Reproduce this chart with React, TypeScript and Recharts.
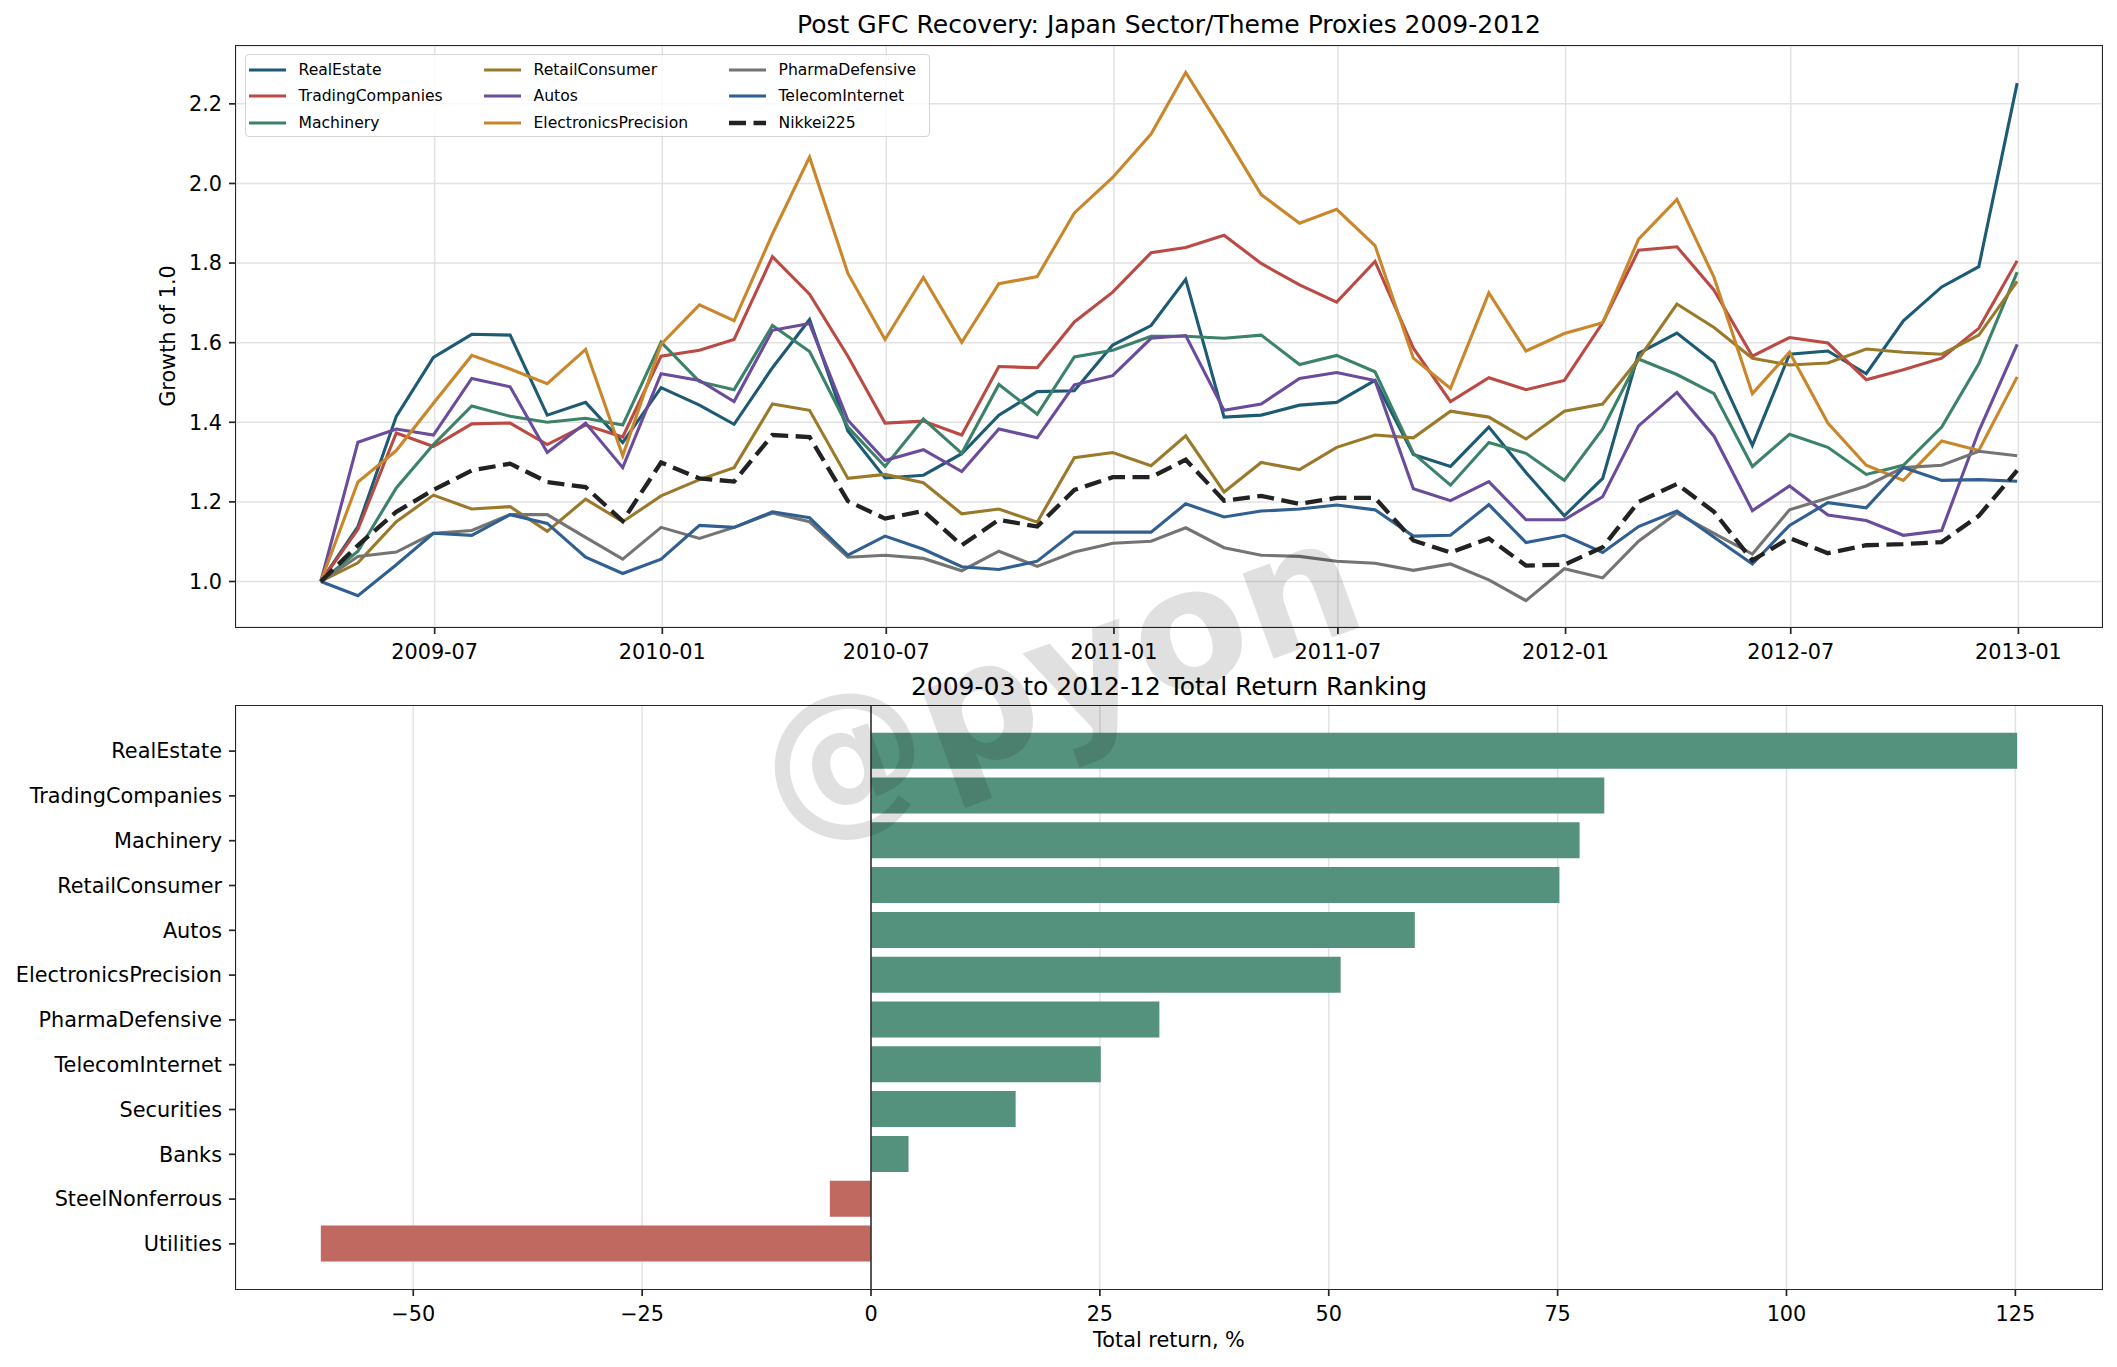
import React from 'react'
import { LineChart, Line, BarChart, Bar, Cell, XAxis, YAxis, CartesianGrid, ReferenceLine } from 'recharts'

const FONT = '"DejaVu Sans", sans-serif'
const AX = '#262626'
const W = 2117

// monthly closes, growth of 1.0 from 2009-03 month end to 2012-12
const realEstate = [1.0, 1.138, 1.415, 1.563, 1.621, 1.619, 1.418, 1.45, 1.349, 1.487, 1.443, 1.395, 1.537, 1.658, 1.378, 1.26,
  1.267, 1.321, 1.418, 1.477, 1.479, 1.594, 1.643, 1.759, 1.413, 1.418, 1.443, 1.45, 1.505, 1.319, 1.289, 1.388, 1.274, 1.165,
  1.259, 1.573, 1.624, 1.551, 1.342, 1.571, 1.579, 1.522, 1.655, 1.74, 1.791, 2.252]
const tradingCompanies = [1.0, 1.131, 1.373, 1.339, 1.396, 1.398, 1.344, 1.393, 1.363, 1.566, 1.581, 1.608, 1.816, 1.722, 1.566, 1.398,
  1.403, 1.368, 1.54, 1.537, 1.652, 1.727, 1.826, 1.839, 1.87, 1.799, 1.745, 1.702, 1.804, 1.586, 1.452, 1.512, 1.482, 1.505,
  1.65, 1.832, 1.841, 1.732, 1.566, 1.613, 1.599, 1.507, 1.532, 1.561, 1.636, 1.806]
const machinery = [1.0, 1.076, 1.235, 1.344, 1.441, 1.415, 1.4, 1.41, 1.393, 1.601, 1.502, 1.482, 1.643, 1.578, 1.388, 1.289,
  1.408, 1.322, 1.495, 1.42, 1.564, 1.581, 1.616, 1.616, 1.611, 1.619, 1.545, 1.568, 1.527, 1.322, 1.242, 1.349, 1.322, 1.254,
  1.383, 1.559, 1.52, 1.472, 1.289, 1.37, 1.337, 1.269, 1.292, 1.388, 1.547, 1.777]
const retailConsumer = [1.0, 1.047, 1.15, 1.217, 1.182, 1.188, 1.126, 1.207, 1.15, 1.215, 1.256, 1.286, 1.446, 1.43, 1.259, 1.269,
  1.248, 1.17, 1.182, 1.149, 1.311, 1.324, 1.291, 1.366, 1.225, 1.299, 1.281, 1.337, 1.368, 1.361, 1.428, 1.413, 1.358, 1.428,
  1.446, 1.559, 1.697, 1.638, 1.561, 1.544, 1.549, 1.584, 1.576, 1.571, 1.619, 1.754]
const autos = [1.0, 1.35, 1.383, 1.368, 1.51, 1.489, 1.324, 1.398, 1.286, 1.522, 1.505, 1.452, 1.631, 1.648, 1.405, 1.304,
  1.331, 1.276, 1.383, 1.361, 1.494, 1.517, 1.611, 1.618, 1.43, 1.446, 1.51, 1.525, 1.505, 1.233, 1.203, 1.251, 1.155, 1.155,
  1.213, 1.391, 1.475, 1.365, 1.178, 1.24, 1.167, 1.153, 1.116, 1.128, 1.378, 1.596]
const electronicsPrecision = [1.0, 1.25, 1.329, 1.448, 1.568, 1.534, 1.497, 1.583, 1.316, 1.596, 1.695, 1.655, 1.873, 2.066, 1.774, 1.608,
  1.764, 1.601, 1.748, 1.766, 1.926, 2.015, 2.124, 2.279, 2.126, 1.972, 1.9, 1.935, 1.844, 1.561, 1.485, 1.725, 1.579, 1.623,
  1.65, 1.86, 1.96, 1.764, 1.472, 1.576, 1.398, 1.292, 1.254, 1.353, 1.329, 1.514]
const pharmaDefensive = [1.0, 1.063, 1.074, 1.121, 1.128, 1.168, 1.168, 1.111, 1.056, 1.136, 1.108, 1.136, 1.172, 1.15, 1.061, 1.066,
  1.058, 1.027, 1.076, 1.038, 1.074, 1.096, 1.101, 1.135, 1.085, 1.066, 1.063, 1.051, 1.046, 1.028, 1.044, 1.004, 0.952, 1.032,
  1.009, 1.101, 1.172, 1.121, 1.069, 1.18, 1.21, 1.24, 1.286, 1.292, 1.327, 1.316]
const telecomInternet = [1.0, 0.964, 1.042, 1.121, 1.116, 1.168, 1.146, 1.061, 1.02, 1.056, 1.141, 1.136, 1.175, 1.16, 1.066, 1.114,
  1.081, 1.037, 1.03, 1.051, 1.124, 1.124, 1.124, 1.195, 1.162, 1.177, 1.182, 1.192, 1.18, 1.114, 1.116, 1.193, 1.098, 1.116,
  1.073, 1.138, 1.177, 1.111, 1.044, 1.141, 1.198, 1.185, 1.286, 1.254, 1.256, 1.252]
const nikkei225 = [1.0, 1.091, 1.175, 1.23, 1.279, 1.296, 1.25, 1.237, 1.152, 1.299, 1.259, 1.251, 1.368, 1.363, 1.202, 1.158,
  1.177, 1.091, 1.155, 1.138, 1.23, 1.262, 1.262, 1.306, 1.203, 1.215, 1.195, 1.21, 1.21, 1.103, 1.073, 1.108, 1.04, 1.042,
  1.086, 1.2, 1.245, 1.175, 1.053, 1.109, 1.071, 1.091, 1.094, 1.099, 1.165, 1.279]

const SERIES = [
  { key: 'RealEstate', values: realEstate, color: '#1d5a74' },
  { key: 'TradingCompanies', values: tradingCompanies, color: '#bb4a44' },
  { key: 'Machinery', values: machinery, color: '#3b8268' },
  { key: 'RetailConsumer', values: retailConsumer, color: '#9a7a2a' },
  { key: 'Autos', values: autos, color: '#6a4c9c' },
  { key: 'ElectronicsPrecision', values: electronicsPrecision, color: '#c9862a' },
  { key: 'PharmaDefensive', values: pharmaDefensive, color: '#747474' },
  { key: 'TelecomInternet', values: telecomInternet, color: '#305f91' },
  { key: 'Nikkei225', values: nikkei225, color: '#222222', dashed: true },
]

const xTickLabels = ['2009-07', '2010-01', '2010-07', '2011-01', '2011-07', '2012-01', '2012-07', '2013-01']
const yTicks = [1.0, 1.2, 1.4, 1.6, 1.8, 2.0, 2.2]

const rankNames = ['RealEstate', 'TradingCompanies', 'Machinery', 'RetailConsumer', 'Autos', 'ElectronicsPrecision',
  'PharmaDefensive', 'TelecomInternet', 'Securities', 'Banks', 'SteelNonferrous', 'Utilities']
const rankReturns = [125.2, 80.1, 77.4, 75.2, 59.4, 51.3, 31.5, 25.1, 15.8, 4.1, -4.5, -60.1]
const returnTicks = [-50, -25, 0, 25, 50, 75, 100, 125]

// month-end dates, 2009-03-31 ... 2012-12-31
const monthEnds = realEstate.map((_, i) => Date.UTC(2009, 3 + i, 0))
const rows = monthEnds.map((t, i) => {
  const r: any = { t }
  SERIES.forEach(s => { r[s.key] = s.values[i] })
  return r
})
const xTicks = xTickLabels.map(s => Date.UTC(+s.slice(0, 4), +s.slice(5) - 1, 1))
const tPad = (monthEnds[monthEnds.length - 1] - monthEnds[0]) * 0.05
const xDomain = [monthEnds[0] - tPad, monthEnds[monthEnds.length - 1] + tPad]
const allVals = SERIES.flatMap(s => s.values)
const yMin = Math.min(...allVals), yMax = Math.max(...allVals)
const yDomain = [yMin - (yMax - yMin) * 0.05, yMax + (yMax - yMin) * 0.05]

const rankRows = rankNames.map((name, i) => ({ name, value: rankReturns[i] }))
const rMin = Math.min(...rankReturns), rMax = Math.max(...rankReturns)
const rDomain = [rMin - (rMax - rMin) * 0.05, rMax + (rMax - rMin) * 0.05]

const fmtMonth = (t: number) => {
  const d = new Date(t)
  return `${d.getUTCFullYear()}-${String(d.getUTCMonth() + 1).padStart(2, '0')}`
}
const fmtSigned = (v: number) => (v < 0 ? '\u2212' + Math.abs(v) : String(v))

const tickStyle = { fontSize: 20.8, fill: '#000', fontFamily: FONT }
const tickLine = { stroke: AX, strokeWidth: 1.7 }

const Frame = ({ left, top, width, height }: any) => (
  <div style={{ position: 'absolute', left: left - 0.85, top: top - 0.85, width: width + 1.7, height: height + 1.7,
    border: `1.7px solid ${AX}`, boxSizing: 'border-box', pointerEvents: 'none' }} />
)

const colX = [4, 239, 484]
const rowY = [15.3, 41.3, 68]

const LegendBox = () => (
  <div style={{ position: 'absolute', left: 245, top: 54, width: 685, height: 83, border: '1.5px solid #d4d4d4',
    borderRadius: 4, background: 'rgba(255,255,255,0.8)', boxSizing: 'border-box', fontFamily: FONT, fontSize: 15.6 }}>
    {SERIES.map((s, i) => (
      <div key={s.key} style={{ position: 'absolute', left: colX[Math.floor(i / 3)] - 1.5, top: rowY[i % 3] - 11,
        height: 22, display: 'flex', alignItems: 'center', whiteSpace: 'nowrap' }}>
        <svg width={37} height={10} style={{ marginRight: 13 }}>
          <line x1={0} y1={5} x2={37} y2={5} stroke={s.color} strokeWidth={s.dashed ? 4.3 : 3.1}
            strokeDasharray={s.dashed ? '17 7.5' : undefined} />
        </svg>
        <span>{s.key}</span>
      </div>
    ))}
  </div>
)

export default function App() {
  return (
    <div style={{ position: 'absolute', left: 0, top: 0, width: W, height: 1367, background: '#fff', fontFamily: FONT }}>
      <div style={{ position: 'absolute', left: 0, top: 0 }}>
        <LineChart width={W} height={680} data={rows} margin={{ top: 46, right: 15, bottom: 0, left: 0 }}>
          <CartesianGrid stroke="#e2e2e2" strokeWidth={1.5} />
          <XAxis dataKey="t" type="number" domain={xDomain} ticks={xTicks} tickFormatter={fmtMonth} height={53}
            axisLine={false} tickLine={tickLine} tickSize={7} tickMargin={10} tick={tickStyle} interval={0} />
          <YAxis type="number" domain={yDomain} ticks={yTicks} tickFormatter={(v: number) => v.toFixed(1)} width={236}
            axisLine={false} tickLine={tickLine} tickSize={7} tickMargin={7} tick={tickStyle} interval={0} />
          {SERIES.map(s => (
            <Line key={s.key} dataKey={s.key} type="linear" stroke={s.color} strokeWidth={s.dashed ? 4.3 : 3.1}
              strokeDasharray={s.dashed ? '17 7.5' : undefined} dot={false} activeDot={false} isAnimationActive={false} />
          ))}
        </LineChart>
      </div>
      <Frame left={236} top={46} width={1866} height={581} />
      <LegendBox />

      <div style={{ position: 'absolute', left: 0, top: 680 }}>
        <BarChart layout="vertical" width={W} height={687} data={rankRows} barSize={36}
          margin={{ top: 26, right: 15, bottom: 0, left: 0 }}>
          <CartesianGrid horizontal={false} stroke="#e2e2e2" strokeWidth={1.5} />
          <XAxis type="number" domain={rDomain} ticks={returnTicks} tickFormatter={fmtSigned} height={78}
            axisLine={false} tickLine={tickLine} tickSize={7} tickMargin={10} tick={tickStyle} interval={0} />
          <YAxis type="category" dataKey="name" width={236} padding={{ top: 22.7, bottom: 22.7 }}
            axisLine={false} tickLine={tickLine} tickSize={7} tickMargin={7} tick={tickStyle} interval={0} />
          <Bar dataKey="value" isAnimationActive={false}>
            {rankRows.map(r => <Cell key={r.name} fill={r.value >= 0 ? '#55927d' : '#c06961'} />)}
          </Bar>
          <ReferenceLine x={0} stroke="#333" strokeWidth={1.6} />
        </BarChart>
      </div>
      <Frame left={236} top={706} width={1866} height={583} />

      <svg width={W} height={1367} style={{ position: 'absolute', left: 0, top: 0, pointerEvents: 'none' }}>
        <text x={1169} y={33} textAnchor="middle" fontSize={25} fontFamily={FONT}>
          Post GFC Recovery: Japan Sector/Theme Proxies 2009-2012
        </text>
        <text x={1169} y={695} textAnchor="middle" fontSize={25} fontFamily={FONT}>
          2009-03 to 2012-12 Total Return Ranking
        </text>
        <text transform="translate(168 336) rotate(-90)" textAnchor="middle" dominantBaseline="central"
          fontSize={20.8} fontFamily={FONT}>Growth of 1.0</text>
        <text x={1169} y={1347} textAnchor="middle" fontSize={20.8} fontFamily={FONT}>Total return, %</text>
        <text transform="translate(1058 676) rotate(-20)" textAnchor="middle" dominantBaseline="central"
          fontSize={166} fontWeight="bold" fontFamily={FONT} fill="#000" fillOpacity={0.12}>@pyon</text>
      </svg>
    </div>
  )
}
